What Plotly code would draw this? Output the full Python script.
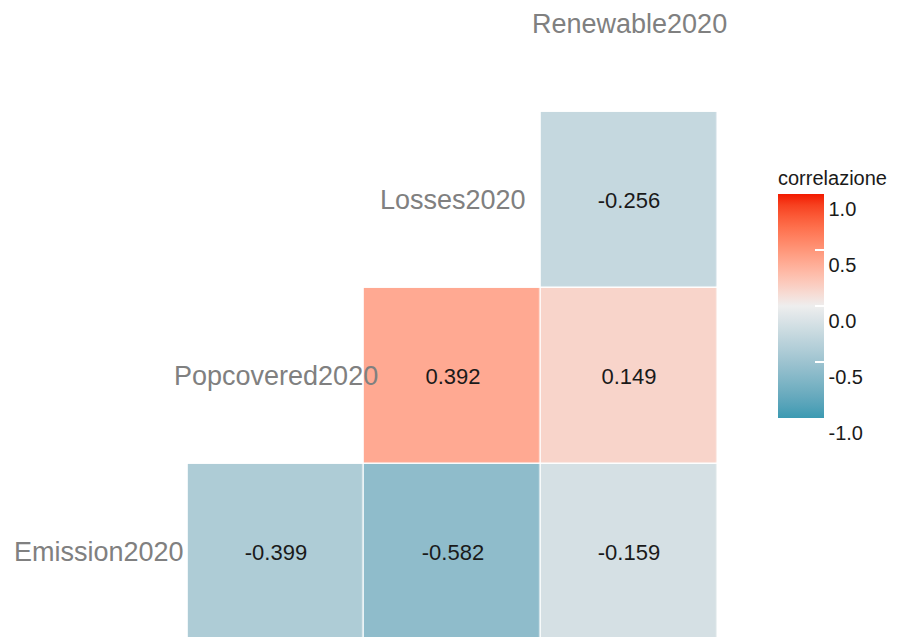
import numpy as np
import plotly.graph_objects as go

# ---------------- data ----------------
variables = ["Emission2020", "Popcovered2020", "Losses2020", "Renewable2020"]
# correlations: pair (column variable, row variable)
pairs_col = ["Popcovered2020", "Losses2020", "Renewable2020", "Losses2020", "Renewable2020", "Renewable2020"]
pairs_row = ["Emission2020", "Emission2020", "Emission2020", "Popcovered2020", "Popcovered2020", "Losses2020"]
corr_values = [-0.399, -0.582, -0.159, 0.392, 0.149, -0.256]
colorbar_ticks = [-1.0, -0.5, 0.0, 0.5, 1.0]
colorbar_ticklabels = ["-1.0", "-0.5", "0.0", "0.5", "1.0"]
legend_title = "correlazione"

LOW, MID, HIGH = "#3B9AB2", "#EEEEEE", "#F21A00"

# ---------------- Lab interpolation (like ggplot's scale_fill_gradient2) ----------------
def hex2rgb(h):
    h = h.lstrip("#")
    return np.array([int(h[i:i + 2], 16) for i in (0, 2, 4)], dtype=float) / 255.0

def srgb2lin(c):
    return np.where(c <= 0.04045, c / 12.92, ((c + 0.055) / 1.055) ** 2.4)

def lin2srgb(c):
    c = np.clip(c, 0, 1)
    return np.where(c <= 0.0031308, 12.92 * c, 1.055 * c ** (1 / 2.4) - 0.055)

M = np.array([[0.4124564, 0.3575761, 0.1804375],
              [0.2126729, 0.7151522, 0.0721750],
              [0.0193339, 0.1191920, 0.9503041]])
Minv = np.linalg.inv(M)
WHITE = np.array([0.95047, 1.0, 1.08883])

def f(t):
    d = 6 / 29
    return np.where(t > d ** 3, np.cbrt(t), t / (3 * d * d) + 4 / 29)

def finv(t):
    d = 6 / 29
    return np.where(t > d, t ** 3, 3 * d * d * (t - 4 / 29))

def rgb2lab(rgb):
    xyz = M @ srgb2lin(rgb) / WHITE
    fx, fy, fz = f(xyz)
    return np.array([116 * fy - 16, 500 * (fx - fy), 200 * (fy - fz)])

def lab2hex(lab):
    L, a, b = lab
    fy = (L + 16) / 116
    fx = fy + a / 500
    fz = fy - b / 200
    xyz = np.array([finv(fx), finv(fy), finv(fz)]) * WHITE
    rgb = lin2srgb(Minv @ xyz)
    r, g, bb = (np.round(rgb * 255)).astype(int)
    return f"#{r:02x}{g:02x}{bb:02x}"

lab_low, lab_mid, lab_high = rgb2lab(hex2rgb(LOW)), rgb2lab(hex2rgb(MID)), rgb2lab(hex2rgb(HIGH))
colorscale = []
n = 20
for i in range(n + 1):
    t = i / n
    if t <= 0.5:
        u = t / 0.5
        lab = lab_low + (lab_mid - lab_low) * u
    else:
        u = (t - 0.5) / 0.5
        lab = lab_mid + (lab_high - lab_mid) * u
    colorscale.append([t, lab2hex(lab)])

# ---------------- build matrix ----------------
k = len(variables)
z = [[None] * k for _ in range(k)]
txt = [[""] * k for _ in range(k)]
for cv, rv, val in zip(pairs_col, pairs_row, corr_values):
    c = variables.index(cv)
    r = variables.index(rv)
    z[r][c] = val
    txt[r][c] = f"{val:.3f}"

FONT = "Liberation Sans, Arial, sans-serif"

fig = go.Figure()
fig.add_trace(go.Heatmap(
    x=list(range(k)), y=list(range(k)), z=z,
    text=txt, texttemplate="%{text}",
    textfont=dict(family=FONT, size=22, color="#1a1a1a"),
    colorscale=colorscale, zmin=-1, zmax=1,
    xgap=1.5, ygap=1.5, hoverongaps=False,
    colorbar=dict(
        title=dict(text=legend_title, side="top", font=dict(family=FONT, size=20, color="#1a1a1a")),
        tickvals=colorbar_ticks, ticktext=colorbar_ticklabels,
        tickfont=dict(family=FONT, size=20, color="#1a1a1a"),
        ticklabelposition="outside bottom",
        ticks="inside", ticklen=9, tickcolor="white", tickwidth=1.5,
        outlinewidth=0, thickness=46, thicknessmode="pixels",
        len=251, lenmode="pixels",
        x=778 / 906, xanchor="left", xpad=0,
        y=1 - 418 / 637, yanchor="bottom", ypad=0,
    ),
))

for i, name in enumerate(variables):
    fig.add_annotation(x=i, y=i, text=name, showarrow=False,
                       font=dict(family=FONT, size=27, color="#808080"),
                       xanchor="center", yanchor="middle")

fig.update_xaxes(range=[-0.561, 4.566], visible=False, showgrid=False, zeroline=False)
fig.update_yaxes(range=[-0.48, 3.136], visible=False, showgrid=False, zeroline=False)
fig.update_layout(
    width=906, height=637,
    margin=dict(l=0, r=0, t=0, b=0),
    paper_bgcolor="white", plot_bgcolor="white",
    showlegend=False,
)

fig.write_html("out.html")
